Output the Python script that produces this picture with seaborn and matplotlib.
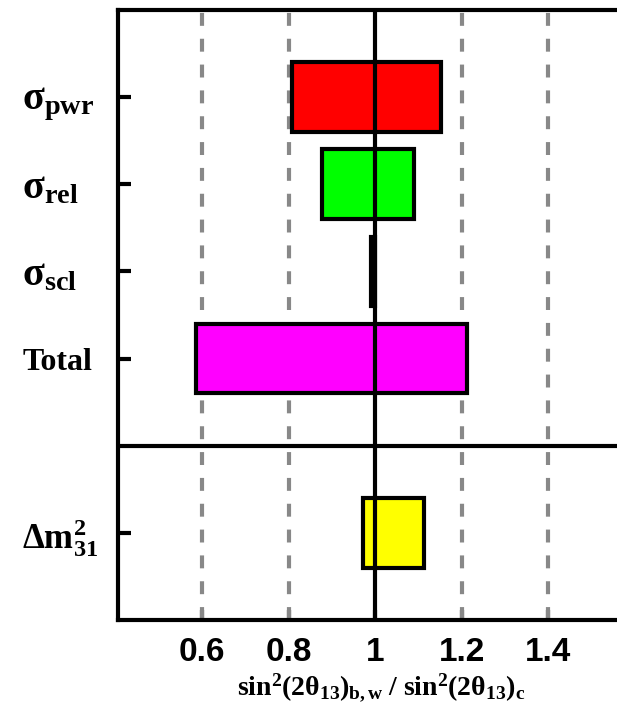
import matplotlib
matplotlib.use("Agg")
import matplotlib.pyplot as plt
import seaborn as sns
import pandas as pd

# ---- data ----
labels = [r"$\mathbf{σ_{pwr}}$", r"$\mathbf{σ_{rel}}$", r"$\mathbf{σ_{scl}}$", "Total", r"$\mathbf{Δm^2_{31}}$"]
label_sizes = [29, 29, 29, 23, 25]
positions = [0, 1, 2, 3, 5]
lo = [0.808, 0.877, 0.989, 0.585, 0.972]
hi = [1.151, 1.090, 1.000, 1.212, 1.113]
colors = ["#ff0000", "#00ff00", "#000000", "#ff00ff", "#ffff00"]
xticks = [0.6, 0.8, 1.0, 1.2, 1.4]
xticklabels = ["0.6", "0.8", "1", "1.2", "1.4"]
gridvals = [0.6, 0.8, 1.2, 1.4]

sns.set_theme(style="white")
plt.rcParams["mathtext.fontset"] = "custom"
plt.rcParams["mathtext.rm"] = "Liberation Serif"
plt.rcParams["mathtext.it"] = "Liberation Serif:italic"
plt.rcParams["mathtext.bf"] = "Liberation Serif:bold"

df = pd.DataFrame({"pos": positions, "lo": lo, "hi": hi})
df["span"] = df["hi"] - df["lo"]

LW = 3.0

fig = plt.figure(figsize=(6.17, 7.12), dpi=100)
ax = fig.add_axes([118 / 617, 1 - 620 / 712, 1 - 118 / 617, 610 / 712])

# dashed grid lines
for v in gridvals:
    ax.axvline(v, color="#888888", lw=LW, ls=(0, (3.1, 3.1)), zorder=1)

sns.barplot(data=df, x="span", y="pos", orient="y", native_scale=True,
            errorbar=None, width=0.8, color="white", edgecolor="black",
            linewidth=LW, ax=ax, zorder=3)
for patch, l, c in zip(ax.patches, df["lo"], colors):
    patch.set_x(l)
    patch.set_facecolor(c)

ax.axvline(1.0, color="black", lw=LW, zorder=5)
ax.axhline(4, color="black", lw=LW, zorder=5)

ax.set_xlim(0.405, 0.405 + (617 - 118) / 432.5)
ax.set_ylim(6, -1)

for s in ["left", "top", "bottom"]:
    ax.spines[s].set_visible(True)
    ax.spines[s].set_linewidth(LW)
    ax.spines[s].set_color("black")
ax.spines["right"].set_visible(False)

ax.set_yticks(positions)
ax.set_yticklabels(labels, fontfamily="Liberation Serif", fontweight="bold", ha="left")
for t, s in zip(ax.get_yticklabels(), label_sizes):
    t.set_fontsize(s)
ax.tick_params(axis="y", direction="in", length=9, width=LW, left=True,
               right=False, pad=69, colors="black")

ax.set_xticks(xticks)
ax.set_xticklabels(xticklabels, fontsize=24, fontfamily="Liberation Sans", fontweight="bold")
ax.tick_params(axis="x", direction="in", length=7, width=LW, bottom=True,
               top=False, pad=12, colors="black")

ax.set_ylabel("")
ax.set_xlabel(r"$\mathbf{sin^2(2θ_{13})_{b,w}\ /\ sin^2(2θ_{13})_c}$",
              fontsize=20, color="black")
ax.xaxis.set_label_coords(0.527, -0.085)

fig.savefig("out.png", dpi=100)
